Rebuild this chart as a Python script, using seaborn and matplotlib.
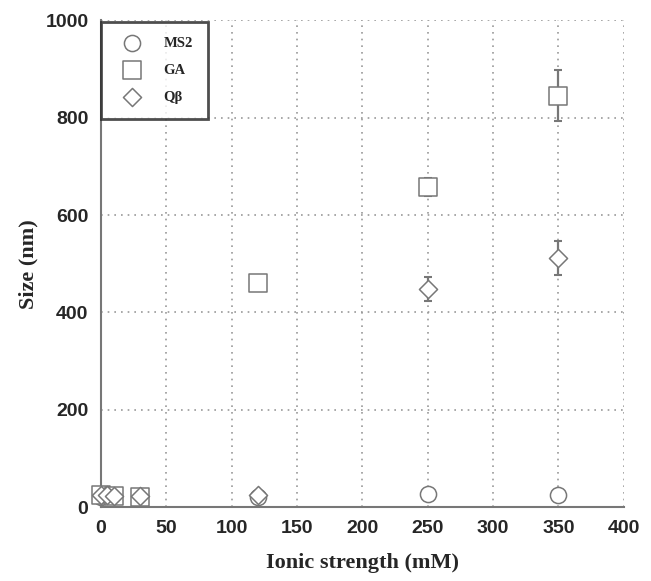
import matplotlib
matplotlib.use("Agg")
import matplotlib.pyplot as plt
from matplotlib.ticker import MultipleLocator
import pandas as pd
import seaborn as sns

# données
ms2_x = [0, 120, 250, 350]
ms2_y = [22, 20, 27, 25]
ms2_err = [0, 0, 4, 4]

ga_x = [0, 10, 30, 120, 250, 350]
ga_y = [25, 24, 22, 460, 658, 845]
ga_err = [0, 0, 0, 8, 18, 52]

qb_x = [0, 5, 10, 30, 120, 250, 350]
qb_y = [25, 25, 24, 24, 25, 448, 512]
qb_err = [0, 0, 0, 0, 8, 25, 35]

series = [
    ("MS2", ms2_x, ms2_y, ms2_err, "o", 135),
    ("GA", ga_x, ga_y, ga_err, "s", 150),
    ("Q\u03b2", qb_x, qb_y, qb_err, "D", 85),
]

sns.set_style("white")
fig, ax = plt.subplots(figsize=(6.51, 5.81), dpi=100)
fig.subplots_adjust(left=0.155, right=0.958, top=0.965, bottom=0.127)

gris = "#777777"
for name, xs, ys, errs, mk, sz in series:
    df = pd.DataFrame({"x": xs, "y": ys})
    ax.errorbar(xs, ys, yerr=errs, fmt="none", ecolor=gris, elinewidth=1.6,
                capsize=3, capthick=1.5, zorder=2)
    sns.scatterplot(data=df, x="x", y="y", marker=mk, s=sz, facecolor="white",
                    edgecolor=gris, linewidth=1.1, ax=ax, zorder=3, label=name,
                    clip_on=False)

ax.set_xlim(0, 400)
ax.set_ylim(0, 1000)
ax.xaxis.set_major_locator(MultipleLocator(50))
ax.xaxis.set_minor_locator(MultipleLocator(10))
ax.yaxis.set_major_locator(MultipleLocator(200))
ax.yaxis.set_minor_locator(MultipleLocator(50))
ax.tick_params(which="both", direction="in", color=gris)
ax.tick_params(which="major", length=5, labelsize=14, pad=9)
ax.tick_params(which="minor", length=3)
for lab in ax.get_xticklabels() + ax.get_yticklabels():
    lab.set_fontweight("bold")
    lab.set_family("Liberation Sans")

ax.grid(True, which="major", linestyle=(0, (1, 3)), color="#999999", linewidth=1.2)
for s in ["top", "right"]:
    ax.spines[s].set_visible(False)
for s in ["left", "bottom"]:
    ax.spines[s].set_color(gris)
    ax.spines[s].set_linewidth(1.5)

ax.set_xlabel("Ionic strength (mM)", fontsize=16, fontweight="bold",
              family="Liberation Serif", labelpad=12)
ax.set_ylabel("Size (nm)", fontsize=16, fontweight="bold",
              family="Liberation Serif", labelpad=5)

leg = ax.legend(loc="upper left", bbox_to_anchor=(0.0, 0.996), frameon=True,
                fancybox=False, borderpad=1.0, labelspacing=0.95, handletextpad=1.0,
                handlelength=2.3, borderaxespad=0.0,
                prop={"family": "Liberation Serif", "weight": "bold", "size": 10.5})
leg.get_frame().set_edgecolor("#222222")
leg.get_frame().set_linewidth(2)
leg.set_zorder(5)

fig.savefig("out.png", dpi=100)
